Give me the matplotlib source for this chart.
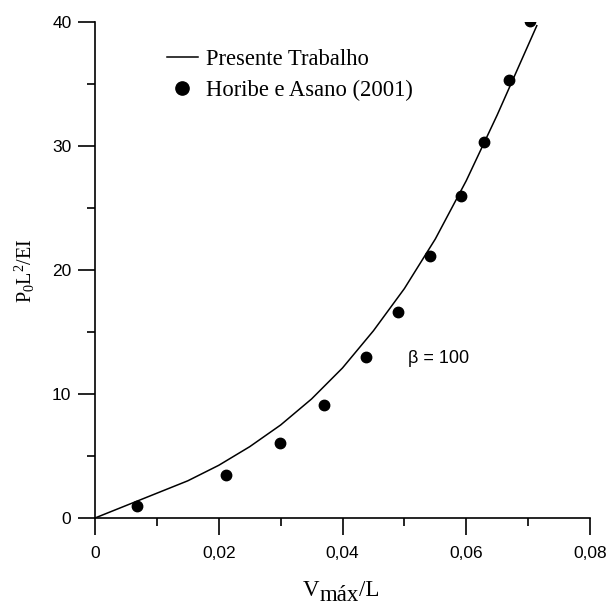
import matplotlib
matplotlib.use('Agg')
import matplotlib.pyplot as plt
import numpy as np
from matplotlib.ticker import MultipleLocator, FuncFormatter

# Presente Trabalho (curve)
curve_x = [0.0, 0.005, 0.01, 0.015, 0.02, 0.025, 0.03, 0.035, 0.04, 0.045, 0.05, 0.055, 0.06, 0.065, 0.0714]
curve_y = [0.0, 1.0, 2.0, 3.0, 4.25, 5.75, 7.5, 9.6, 12.1, 15.1, 18.5, 22.5, 27.2, 32.5, 39.7]

# Horibe e Asano (2001)
pts_x = [0.0068, 0.0212, 0.0299, 0.0370, 0.0438, 0.0490, 0.0541, 0.0592, 0.0629, 0.0669, 0.0703]
pts_y = [0.97, 3.47, 6.05, 9.11, 12.98, 16.6, 21.1, 25.97, 30.3, 35.3, 40.1]

plt.rcParams['mathtext.fontset'] = 'custom'
plt.rcParams['mathtext.rm'] = 'Liberation Serif'
plt.rcParams['mathtext.it'] = 'Liberation Serif'

W, H = 609, 606
fig = plt.figure(figsize=(W / 100, H / 100), dpi=100)
ax = fig.add_axes([95 / W, 1 - 518 / H, 495 / W, 496 / H])

ax.plot(curve_x, curve_y, color='black', linewidth=1.1, label='Presente Trabalho')
ax.plot(pts_x, pts_y, 'o', color='black', markersize=7.5, label='Horibe e Asano (2001)')

ax.set_xlim(0, 0.08)
ax.set_ylim(0, 40)
ax.spines['top'].set_visible(False)
ax.spines['right'].set_visible(False)
ax.spines['left'].set_linewidth(1.2)
ax.spines['bottom'].set_linewidth(1.2)

ax.xaxis.set_major_locator(MultipleLocator(0.02))
ax.xaxis.set_minor_locator(MultipleLocator(0.01))
ax.yaxis.set_major_locator(MultipleLocator(10))
ax.yaxis.set_minor_locator(MultipleLocator(5))

def xfmt(v, pos):
    if abs(v) < 1e-9:
        return '0'
    return ('%.2f' % v).replace('.', ',')
ax.xaxis.set_major_formatter(FuncFormatter(xfmt))

ax.tick_params(axis='both', which='major', length=12, width=1.2, labelsize=12.5,
               labelfontfamily='Liberation Sans')
ax.tick_params(axis='x', which='major', pad=8)
ax.tick_params(axis='y', which='major', pad=5)
ax.tick_params(axis='both', which='minor', length=6, width=1.2)

# y label
fig.text(25 / W, 1 - 271 / H, r'$\mathrm{P_0L^2/EI}$', fontsize=14.5, rotation=90,
         ha='center', va='center')

# x label: V, lowered "máx", /L
fig.canvas.draw()
r = fig.canvas.get_renderer()
lab_font = {'family': 'Liberation Serif', 'size': 16.5}
t1 = fig.text(303 / W, 9.5 / H, 'V', va='baseline', ha='left', fontdict=lab_font)
x1 = t1.get_window_extent(r).x1
t2 = fig.text(x1 / W, 5 / H, 'máx', va='baseline', ha='left', fontdict=lab_font)
x2 = t2.get_window_extent(r).x1
fig.text(x2 / W, 9.5 / H, '/L', va='baseline', ha='left', fontdict=lab_font)

ax.text(0.0506, 12.85, 'β = 100', fontsize=13, family='Liberation Sans', va='center')

ax.legend(loc='upper left', bbox_to_anchor=(0.1455, 0.946), frameon=False,
          prop={'family': 'Liberation Serif', 'size': 16.3},
          handlelength=1.36, handletextpad=0.36, labelspacing=0.45,
          borderpad=0, borderaxespad=0, markerscale=1.27)

fig.savefig('out.png', dpi=100)
